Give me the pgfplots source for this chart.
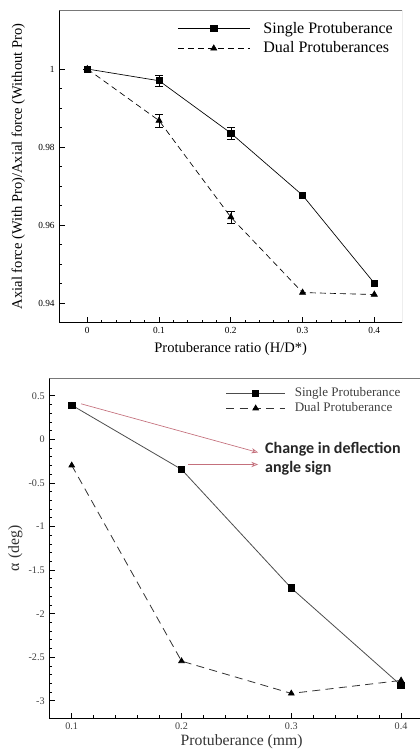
\documentclass[border=0pt]{standalone}
\usepackage{pgfplots}
\pgfplotsset{compat=1.18}
\usepackage{fontspec}
\setmainfont{Liberation Serif}
\newfontfamily\carlito{Carlito}
\usetikzlibrary{arrows.meta}

\definecolor{arrowred}{RGB}{196,112,124}
\definecolor{framegray}{RGB}{120,120,120}

\pgfplotsset{
  refaxis/.style={
    scale only axis, anchor=south west,
    axis x line*=bottom, axis y line*=left,
    axis line style={-, line width=0.8pt},
    tick align=inside,
    major tick length=4pt, minor tick length=2.2pt,
    every tick/.style={line width=0.7pt, black},
    /pgf/number format/assume math mode=true,
  },
}

\begin{document}
\begin{tikzpicture}
\useasboundingbox (0,0) rectangle (314.25pt,564pt);

% upper chart
\begin{axis}[refaxis,
  at={(44.5pt,322pt)}, width=257pt, height=234.5pt,
  xmin=-0.039, xmax=0.4386, ymin=0.9351, ymax=1.0151,
  xtick={0,0.1,0.2,0.3,0.4}, ytick={0.94,0.96,0.98,1},
  minor x tick num=4, minor y tick num=3,
  xticklabels={\textrm{0},\textrm{0.1},\textrm{0.2},\textrm{0.3},\textrm{0.4}},
  yticklabels={\textrm{0.94},\textrm{0.96},\textrm{0.98},\textrm{1}},
  tick label style={font=\rmfamily\fontsize{7}{8}\selectfont},
  xlabel={Protuberance ratio (H/D*)},
  ylabel={Axial force (With Pro)/Axial force (Without Pro)},
  label style={font=\fontsize{10.9}{12}\selectfont},
  x label style={at={(axis description cs:0.5,-0.085)}, anchor=center},
  y label style={at={(axis description cs:-0.12,0.5)}, anchor=center},
  legend style={draw=none, fill=none, at={(axis description cs:0.34,0.975)},
    anchor=north west, font=\fontsize{12}{14}\selectfont,
    row sep=1pt, inner sep=1pt,
    /tikz/every odd column/.append style={column sep=8pt}},
  legend cell align=left,
  legend image code/.code={\draw[mark repeat=2,mark phase=2,#1]
    plot coordinates {(0pt,0pt) (27pt,0pt) (54pt,0pt)};},
]
\addplot[black, line width=0.5pt, mark=square*, mark size=2.3pt,
  error bars/.cd, y dir=both, y explicit, error mark=|,
  error mark options={mark size=3pt, line width=0.5pt}]
  coordinates {
  (0,1) +- (0,0)
  (0.1,0.997) +- (0,0.0015)
  (0.2,0.9836) +- (0,0.0016)
  (0.3,0.9677)
  (0.4,0.9452)
};
\addlegendentry{Single Protuberance}
\addplot[black, line width=0.5pt, dash pattern=on 4.5pt off 3pt,
  mark=triangle*, mark size=2.6pt, mark options={solid},
  error bars/.cd, y dir=both, y explicit, error mark=|,
  error bar style={solid},
  error mark options={mark size=3pt, line width=0.5pt}]
  coordinates {
  (0,1)
  (0.1,0.9868) +- (0,0.0016)
  (0.2,0.9621) +- (0,0.0016)
  (0.3,0.9428)
  (0.4,0.9423)
};
\addlegendentry{Dual Protuberances}
\draw[framegray, line width=0.6pt] (rel axis cs:0,1) -- (rel axis cs:1,1) -- (rel axis cs:1,0);
\end{axis}

% lower chart
\begin{axis}[refaxis,
  at={(37pt,25.3pt)}, width=288.5pt, height=254.9pt,
  xmin=0.0796, xmax=0.43, ymin=-3.2, ymax=0.7,
  xtick={0.1,0.2,0.3,0.4}, ytick={-3,-2.5,-2,-1.5,-1,-0.5,0,0.5},
  xticklabels={\textrm{0.1},\textrm{0.2},\textrm{0.3},\textrm{0.4}},
  yticklabels={\textrm{-3},\textrm{-2.5},\textrm{-2},\textrm{-1.5},\textrm{-1},\textrm{-0.5},\textrm{0},\textrm{0.5}},
  minor x tick num=4, minor y tick num=4,
  tick label style={font=\rmfamily\fontsize{7.6}{9}\selectfont, text=black!75},
  xlabel={Protuberance (mm)},
  ylabel={α (deg)},
  label style={font=\fontsize{11.8}{13}\selectfont, text=black!80},
  x label style={at={(axis description cs:0.5,-0.0686)}, anchor=center},
  y label style={at={(axis description cs:-0.088,0.5)}, anchor=center},
  legend style={draw=none, fill=none, at={(axis description cs:0.455,0.985)},
    anchor=north west, font=\fontsize{9.8}{11}\selectfont, text=black!75,
    row sep=-1pt, inner sep=1pt,
    /tikz/every odd column/.append style={column sep=5pt}},
  legend cell align=left,
  legend image code/.code={\draw[mark repeat=2,mark phase=2,#1]
    plot coordinates {(0pt,0pt) (22pt,0pt) (44pt,0pt)};},
]
\addplot[black!70, line width=0.6pt, mark=square*,
  mark options={black}, mark size=2.4pt] coordinates {
  (0.1,0.393)
  (0.2,-0.344)
  (0.3,-1.706)
  (0.4,-2.823)
};
\addlegendentry{Single Protuberance}
\addplot[black!80, line width=0.6pt, dash pattern=on 6pt off 4pt,
  mark=triangle*, mark options={solid, black}, mark size=2.4pt] coordinates {
  (0.1,-0.298)
  (0.2,-2.544)
  (0.3,-2.915)
  (0.4,-2.766)
};
\addlegendentry{Dual Protuberance}
\draw[framegray, line width=0.6pt] (rel axis cs:0,1) -- (rel axis cs:1,1);
\draw[arrowred, line width=0.5pt, -{Stealth[length=5pt, width=4pt, open]}]
  (axis cs:0.1085,0.4085) -- (axis cs:0.2697,-0.150);
\draw[arrowred, line width=0.5pt, -{Stealth[length=5pt, width=4pt, open]}]
  (axis cs:0.2059,-0.288) -- (axis cs:0.2697,-0.288);
\node[anchor=west, inner sep=0pt, font=\carlito\bfseries\fontsize{12}{14}\selectfont, text=black!85]
  at (axis cs:0.276,-0.108) {Change in deflection};
\node[anchor=west, inner sep=0pt, font=\carlito\bfseries\fontsize{12}{14}\selectfont, text=black!85]
  at (axis cs:0.276,-0.334) {angle sign};
\end{axis}
\end{tikzpicture}
\end{document}
